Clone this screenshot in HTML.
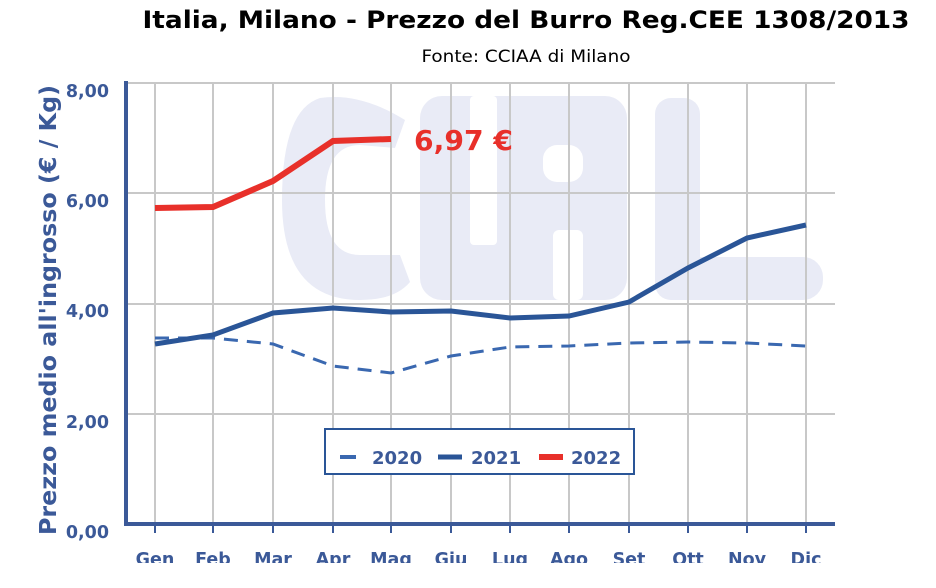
<!DOCTYPE html><html><head><meta charset="utf-8"><style>body{margin:0;background:#fff}svg{display:block}</style></head><body>
<svg width="936" height="588" viewBox="0 0 936 588" xmlns="http://www.w3.org/2000/svg" font-family="Liberation Sans, DejaVu Sans, sans-serif">
<rect width="936" height="588" fill="#fff"/>
<text x="526" y="28" text-anchor="middle" font-family="DejaVu Sans, sans-serif" font-weight="bold" font-size="24" textLength="767" lengthAdjust="spacingAndGlyphs" fill="#000">Italia, Milano - Prezzo del Burro Reg.CEE 1308/2013</text>
<text x="526" y="62" text-anchor="middle" font-family="DejaVu Sans, sans-serif" font-size="17" textLength="209" lengthAdjust="spacingAndGlyphs" fill="#000">Fonte: CCIAA di Milano</text>
<g fill="#e9ebf6">
<path d="M405,120 Q360,92 320,98 Q282,110 282,200 Q282,300 360,300 Q395,300 410,282 L400,255 L360,255 Q325,255 325,200 Q325,145 360,145 L395,148 Z"/>
<rect x="420" y="96" width="207" height="204" rx="22"/>
<rect x="655" y="98" width="45" height="202" rx="16"/>
<rect x="655" y="257" width="168" height="43" rx="20"/>
</g>
<g fill="#fff">
<rect x="470" y="96" width="27" height="149" rx="4"/>
<rect x="543" y="145" width="40" height="37" rx="14"/>
<rect x="553" y="230" width="30" height="70" rx="6"/>
</g>
<g stroke="#c8c8c8" stroke-width="2">
<line x1="126" y1="83" x2="835" y2="83"/><line x1="126" y1="193" x2="835" y2="193"/><line x1="126" y1="304" x2="835" y2="304"/><line x1="126" y1="414" x2="835" y2="414"/>
<line x1="155" y1="83" x2="155" y2="524"/><line x1="213" y1="83" x2="213" y2="524"/><line x1="273" y1="83" x2="273" y2="524"/><line x1="333" y1="83" x2="333" y2="524"/><line x1="391" y1="83" x2="391" y2="524"/><line x1="451" y1="83" x2="451" y2="524"/><line x1="510" y1="83" x2="510" y2="524"/><line x1="569" y1="83" x2="569" y2="524"/><line x1="629" y1="83" x2="629" y2="524"/><line x1="688" y1="83" x2="688" y2="524"/><line x1="747" y1="83" x2="747" y2="524"/><line x1="806" y1="83" x2="806" y2="524"/>
</g>
<g stroke="#3b5998" stroke-width="4"><line x1="126" y1="81" x2="126" y2="526"/><line x1="124" y1="524" x2="835" y2="524"/></g>
<g stroke="#3b5998" stroke-width="2">
<line x1="155" y1="524" x2="155" y2="533"/><line x1="213" y1="524" x2="213" y2="533"/><line x1="273" y1="524" x2="273" y2="533"/><line x1="333" y1="524" x2="333" y2="533"/><line x1="391" y1="524" x2="391" y2="533"/><line x1="451" y1="524" x2="451" y2="533"/><line x1="510" y1="524" x2="510" y2="533"/><line x1="569" y1="524" x2="569" y2="533"/><line x1="629" y1="524" x2="629" y2="533"/><line x1="688" y1="524" x2="688" y2="533"/><line x1="747" y1="524" x2="747" y2="533"/><line x1="806" y1="524" x2="806" y2="533"/>
</g>
<g font-family="DejaVu Sans, sans-serif" font-weight="bold" font-size="17.5" fill="#3b5998" text-anchor="end">
<text x="109" y="97">8,00</text><text x="109" y="207">6,00</text><text x="109" y="317">4,00</text><text x="109" y="428">2,00</text><text x="109" y="538">0,00</text>
</g>
<g font-family="DejaVu Sans, sans-serif" font-weight="bold" font-size="17.5" fill="#3b5998" text-anchor="middle">
<text x="155" y="565">Gen</text><text x="213" y="565">Feb</text><text x="273" y="565">Mar</text><text x="333" y="565">Apr</text><text x="391" y="565">Mag</text><text x="451" y="565">Giu</text><text x="510" y="565">Lug</text><text x="569" y="565">Ago</text><text x="629" y="565">Set</text><text x="688" y="565">Ott</text><text x="747" y="565">Nov</text><text x="806" y="565">Dic</text>
</g>
<rect x="120" y="563" width="740" height="25" fill="#fff"/>
<text transform="translate(56,310) rotate(-90)" text-anchor="middle" font-family="DejaVu Sans, sans-serif" font-weight="bold" font-size="23" textLength="450" lengthAdjust="spacingAndGlyphs" fill="#3b5998">Prezzo medio all'ingrosso (€ / Kg)</text>
<polyline fill="none" stroke="#3a68b0" stroke-width="3" stroke-dasharray="14,9" points="155,338 213,338 273,344 333,366 391,373 451,356 510,347 569,346 629,343 688,342 747,343 806,346"/>
<polyline fill="none" stroke="#2a5597" stroke-width="5" points="155,344 213,335 273,313 333,308 391,312 451,311 510,318 569,316 629,302 688,268 747,238 806,225"/>
<polyline fill="none" stroke="#e8302a" stroke-width="6" points="155,208 213,207 273,181 333,141 391,139"/>
<text x="414" y="150" font-family="DejaVu Sans, sans-serif" font-weight="bold" font-size="28" textLength="99" lengthAdjust="spacingAndGlyphs" fill="#e8302a">6,97 €</text>
<rect x="325" y="429" width="309" height="45" fill="#fff" stroke="#2a5597" stroke-width="2"/>
<line x1="340" y1="457" x2="356" y2="457" stroke="#3a68b0" stroke-width="4"/>
<line x1="438" y1="457" x2="462" y2="457" stroke="#2a5597" stroke-width="5"/>
<line x1="539" y1="457" x2="563" y2="457" stroke="#e8302a" stroke-width="6"/>
<g font-family="DejaVu Sans, sans-serif" font-weight="bold" font-size="18" fill="#3b5998">
<text x="372" y="464">2020</text><text x="471" y="464">2021</text><text x="571" y="464">2022</text>
</g>
</svg>
</body></html>
